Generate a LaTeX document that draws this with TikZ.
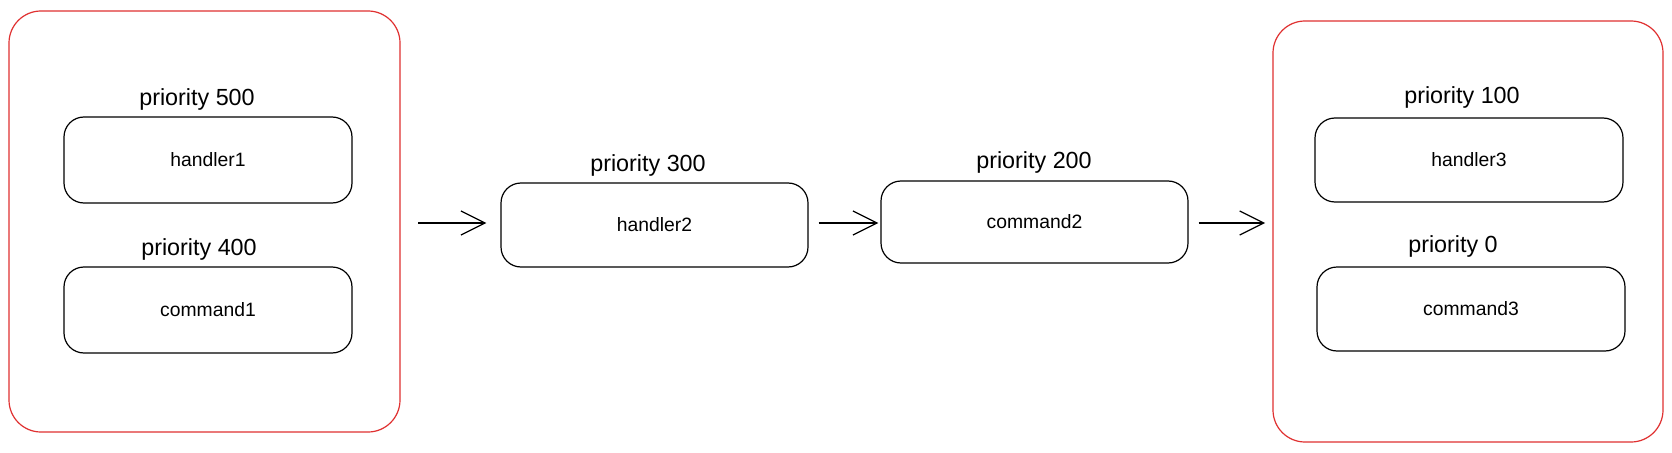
\documentclass[tikz,border=0pt]{standalone}
\usepackage{fontspec}
\setmainfont{Liberation Sans}
\usetikzlibrary{arrows.meta}
\definecolor{exred}{RGB}{224,49,49}
\tikzset{
  box/.style={draw=black, line width=0.9pt, rounded corners=15pt, inner sep=0pt, outer sep=0pt, font=\fontsize{14.5}{17}\selectfont},
  group/.style={draw=exred, line width=0.9pt, rounded corners=24pt, inner sep=0pt, outer sep=0pt},
  prio/.style={font=\fontsize{17.5}{20}\selectfont, inner sep=0pt},
  flow/.style={line width=0.9pt, -{Straight Barb[length=18pt,width=18pt,line width=0.9pt]}}
}
\begin{document}
\begin{tikzpicture}[x=0.75pt,y=-0.75pt]
\useasboundingbox[fill=white] (0,0) rectangle (1672,453);
% groups
\node[group, minimum width=293.25pt, minimum height=315.75pt] (red1) at (204.5,221.5) {};
\node[group, minimum width=292.5pt, minimum height=315.75pt] (red2) at (1468,231.5) {};
% boxes
\node[box, minimum width=216pt, minimum height=64.5pt] (h1) at (208,160) {handler1};
\node[box, minimum width=216pt, minimum height=64.5pt] (c1) at (208,310) {command1};
\node[box, minimum width=230.25pt, minimum height=63pt] (h2) at (654.5,225) {handler2};
\node[box, minimum width=230.25pt, minimum height=61.5pt] (c2) at (1034.5,222) {command2};
\node[box, minimum width=231pt, minimum height=63pt] (h3) at (1469,160) {handler3};
\node[box, minimum width=231pt, minimum height=63pt] (c3) at (1471,309) {command3};
% priority labels
\node[prio] (p500) at (197,99) {priority 500};
\node[prio] (p400) at (199,249) {priority 400};
\node[prio] (p300) at (648,165) {priority 300};
\node[prio] (p200) at (1034,162) {priority 200};
\node[prio] (p100) at (1462,97) {priority 100};
\node[prio] (p0) at (1453,246) {priority 0};
% arrows
\coordinate (a1s) at (red1.east |- 0,223);
\coordinate (a1e) at (h2.west |- 0,223);
\draw[flow, shorten <=13.5pt, shorten >=11pt] (a1s) -- (a1e);
\coordinate (a2s) at (h2.east |- 0,223);
\coordinate (a2e) at (c2.west |- 0,223);
\draw[flow, shorten <=8pt, shorten >=2pt] (a2s) -- (a2e);
\coordinate (a3s) at (c2.east |- 0,223);
\coordinate (a3e) at (red2.west |- 0,223);
\draw[flow, shorten <=8pt, shorten >=6pt] (a3s) -- (a3e);
\end{tikzpicture}
\end{document}
